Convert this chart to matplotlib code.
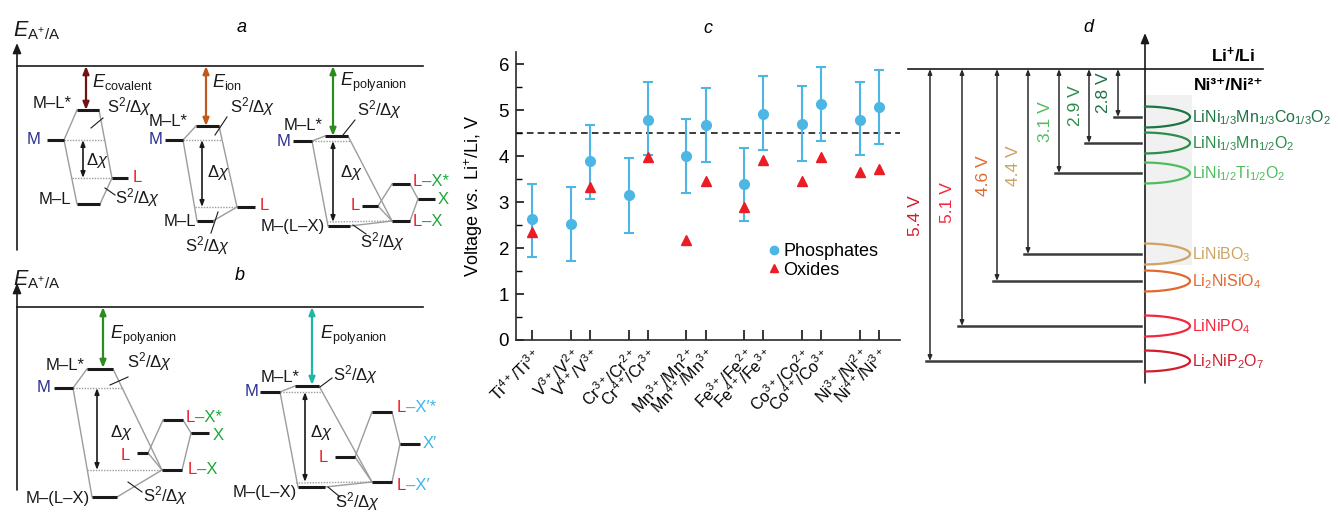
import numpy as np
import matplotlib

matplotlib.use("Agg")
import matplotlib.pyplot as plt  # noqa: E402
from matplotlib.lines import Line2D  # noqa: E402

plt.rcParams["font.family"] = ["Liberation Sans", "DejaVu Sans"]
plt.rcParams["mathtext.fontset"] = "custom"
plt.rcParams["mathtext.rm"] = "Liberation Sans"
plt.rcParams["mathtext.it"] = "Liberation Sans:italic"
plt.rcParams["mathtext.bf"] = "Liberation Sans:bold"
plt.rcParams["mathtext.default"] = "regular"

# ---------------------------------------------------------------------------
# Panel c data: redox couples, phosphates (with spread) and oxides
# ---------------------------------------------------------------------------
couples = [
    "Ti$^{4+}$/Ti$^{3+}$", "V$^{3+}$/V$^{2+}$", "V$^{4+}$/V$^{3+}$",
    "Cr$^{3+}$/Cr$^{2+}$", "Cr$^{4+}$/Cr$^{3+}$", "Mn$^{3+}$/Mn$^{2+}$",
    "Mn$^{4+}$/Mn$^{3+}$", "Fe$^{3+}$/Fe$^{2+}$", "Fe$^{4+}$/Fe$^{3+}$",
    "Co$^{3+}$/Co$^{2+}$", "Co$^{4+}$/Co$^{3+}$", "Ni$^{3+}$/Ni$^{2+}$",
    "Ni$^{4+}$/Ni$^{3+}$",
]
couple_pos = [0, 2, 3, 5, 6, 8, 9, 11, 12, 14, 15, 17, 18]
phosphate_v = [2.63, 2.52, 3.90, 3.15, 4.80, 4.00, 4.68, 3.39, 4.92, 4.71, 5.13, 4.80, 5.08]
phosphate_hi = [3.40, 3.33, 4.68, 3.96, 5.61, 4.81, 5.48, 4.19, 5.74, 5.52, 5.94, 5.62, 5.88]
phosphate_lo = [1.80, 1.72, 3.08, 2.33, 4.02, 3.20, 3.87, 2.60, 4.14, 3.90, 4.34, 4.03, 4.27]
oxide_v = [2.36, np.nan, 3.34, np.nan, 3.99, 2.17, 3.46, 2.89, 3.92, 3.46, 3.98, 3.66, 3.72]
electrolyte_limit = 4.5

# ---------------------------------------------------------------------------
# Panel d data: Ni3+/Ni2+ couple in different frameworks
# ---------------------------------------------------------------------------
ni_compounds = [
    "LiNi$_{1/3}$Mn$_{1/3}$Co$_{1/3}$O$_2$", "LiNi$_{1/3}$Mn$_{1/2}$O$_2$",
    "LiNi$_{1/2}$Ti$_{1/2}$O$_2$", "LiNiBO$_3$", "Li$_2$NiSiO$_4$",
    "LiNiPO$_4$", "Li$_2$NiP$_2$O$_7$",
]
ni_voltage = [2.8, 2.9, 3.1, 4.4, 4.6, 5.1, 5.4]
ni_colors = ["#1d7443", "#2b8e4a", "#4fbd5e", "#cda463", "#e2692e", "#f2283e", "#d01e2c"]
# schematic depth of each level below Li+/Li (pixels of the drawing)
ni_depth = [48, 74, 104, 185, 212, 257, 292]
ni_arrow_x = [1118, 1089, 1059, 1028, 997, 962, 930]
ni_label_y = [93, 106, 122, 166, 176, 203, 216]

W, H = 1338, 513
fig = plt.figure(figsize=(W / 100, H / 100), dpi=100)

# overlay in pixel coordinates for the schematic panels a, b, d
ax = fig.add_axes([0, 0, 1, 1])
ax.set_xlim(0, W)
ax.set_ylim(H, 0)
ax.axis("off")

INK = "#1a1a1a"
GRAY = "#9c9c9c"
BLUE_M = "#2e3192"
RED_L = "#ee1c25"
GREEN_X = "#1fa83c"
CYAN_X = "#3fb6e8"
FS = 12


def level(x0, x1, y, lw=2.2, color=INK):
    ax.plot([x0, x1], [y, y], color=color, lw=lw, solid_capstyle="butt", zorder=3)


def link(p, q, dotted=False):
    ax.plot([p[0], q[0]], [p[1], q[1]], color=GRAY, lw=1.0,
            ls=(0, (1.0, 1.0)) if dotted else "-", zorder=2)


def darrow(x, y0, y1, color=INK, lw=1.2, hl=0.45, hw=0.18):
    ax.annotate("", xy=(x, y0), xytext=(x, y1),
                arrowprops=dict(arrowstyle=f"<|-|>,head_length={hl},head_width={hw}",
                                color=color, lw=lw, shrinkA=0, shrinkB=0))


def txt(x, y, s, color=INK, ha="left", size=FS, **kw):
    return ax.text(x, y, s, color=color, ha=ha, va="center", fontsize=size, **kw)


def two_tone(x, y, parts, size=FS):
    t = ax.text(x, y, parts[0][0], color=parts[0][1], ha="left", va="center", fontsize=size)
    for s, c in parts[1:]:
        t = ax.annotate(s, xy=(1, 0), xycoords=t, ha="left", va="bottom",
                        color=c, fontsize=size)
    return t


S2 = r"S$^{2}$/$\Delta\mathit{\chi}$"
DX = r"$\Delta\mathit{\chi}$"
EAA = r"$\mathit{E}_{\mathrm{A^{+}/A}}$"


def leader(p, q):
    ax.plot([p[0], q[0]], [p[1], q[1]], color=INK, lw=0.8, zorder=4)


# ---------------------------------------------------------------------------
# Panel a
# ---------------------------------------------------------------------------
ax.text(242, 28, "a", fontsize=13, style="italic", ha="center", va="center")
txt(13, 31, EAA, size=15.5)
ax.annotate("", xy=(17, 43), xytext=(17, 250),
            arrowprops=dict(arrowstyle="-|>,head_length=0.6,head_width=0.25",
                            color=INK, lw=1.2, shrinkA=0, shrinkB=0))
ax.plot([17, 423], [66, 66], color=INK, lw=1.2)

# covalent
level(77, 99, 110); level(47, 64, 140); level(112, 128, 178); level(77, 100, 204)
link((77, 110), (64, 140)); link((64, 140), (77, 204))
link((99, 110), (112, 178)); link((112, 178), (100, 204))
link((64, 140), (104, 140), True); link((72, 178), (112, 178), True)
darrow(83, 140, 178, hl=0.35, hw=0.13)
darrow(86, 66, 110, color="#6e1414", lw=1.6)
txt(92, 82, r"$\mathit{E}_{\mathrm{covalent}}$", size=13)
txt(72, 103, "M–L*", ha="right")
txt(41, 140, "M", color=BLUE_M, ha="right")
txt(133, 178, "L", color=RED_L)
txt(71, 200, "M–L", ha="right")
txt(107, 107, S2); leader((103, 118), (91, 128))
txt(86, 160, DX)
txt(115, 198, S2); leader((115, 195), (105, 188))

# ion
level(196, 219, 126); level(165, 183, 140); level(237, 255, 207); level(197, 213, 221)
link((196, 126), (183, 140)); link((183, 140), (197, 221))
link((219, 126), (237, 207)); link((237, 207), (213, 221))
link((183, 140), (222, 140), True); link((195, 207), (237, 207), True)
darrow(202, 140, 207, hl=0.35, hw=0.13)
darrow(206, 66, 126, color="#c2591c", lw=1.6)
txt(212, 82, r"$\mathit{E}_{\mathrm{ion}}$", size=13)
txt(188, 122, "M–L*", ha="right")
txt(162, 140, "M", color=BLUE_M, ha="right")
txt(260, 206, "L", color=RED_L)
txt(196, 222, "M–L", ha="right")
txt(230, 107, S2); leader((227, 117), (215, 135))
txt(207, 173, DX)
txt(185, 246, S2); leader((218, 212), (211, 233))

# polyanion
level(325, 348, 136); level(293, 312, 141); level(392, 410, 184); level(362, 378, 206)
level(418, 435, 199); level(392, 410, 221); level(328, 350, 226)
link((325, 136), (312, 141)); link((312, 141), (328, 226))
link((348, 136), (392, 221)); link((350, 226), (392, 221))
link((378, 206), (392, 184)); link((378, 206), (392, 221))
link((410, 184), (418, 199)); link((418, 199), (410, 221))
link((312, 141), (350, 141), True); link((327, 222), (392, 221), True)
darrow(333, 141, 222, hl=0.35, hw=0.13)
darrow(333, 66, 136, color="#2d8c1e", lw=1.6)
txt(340, 82, r"$\mathit{E}_{\mathrm{polyanion}}$", size=13)
txt(323, 125, "M–L*", ha="right")
txt(290, 141, "M", color=BLUE_M, ha="right")
two_tone(413, 182, [("L", RED_L), ("–X*", GREEN_X)])
txt(438, 199, "X", color=GREEN_X)
txt(360, 206, "L", color=RED_L, ha="right")
two_tone(413, 222, [("L", RED_L), ("–X", GREEN_X)])
txt(325, 226, "M–(L–X)", ha="right")
txt(357, 110, S2); leader((355, 120), (343, 135))
txt(340, 173, DX)
txt(360, 242, S2); leader((353, 225), (366, 234))

# ---------------------------------------------------------------------------
# Panel b
# ---------------------------------------------------------------------------
ax.text(240, 275, "b", fontsize=13, style="italic", ha="center", va="center")
txt(13, 280, EAA, size=15.5)
ax.annotate("", xy=(17, 283), xytext=(17, 490),
            arrowprops=dict(arrowstyle="-|>,head_length=0.6,head_width=0.25",
                            color=INK, lw=1.2, shrinkA=0, shrinkB=0))
ax.plot([17, 423], [307, 307], color=INK, lw=1.2)

# polyanion, X
level(87, 113, 369); level(54, 73, 388); level(163, 183, 420); level(191, 209, 433)
level(137, 148, 453); level(162, 182, 470); level(92, 117, 497)
link((87, 369), (73, 388)); link((73, 388), (92, 497))
link((113, 369), (162, 470)); link((117, 497), (162, 470))
link((148, 453), (163, 420)); link((148, 453), (162, 470))
link((183, 420), (191, 433)); link((191, 433), (182, 470))
link((73, 388), (122, 388), True); link((87, 470), (162, 470), True)
darrow(97, 388, 470, hl=0.35, hw=0.13)
darrow(103, 307, 368, color="#2d8c1e", lw=1.6)
txt(110, 335, r"$\mathit{E}_{\mathrm{polyanion}}$", size=13)
txt(85, 365, "M–L*", ha="right")
txt(50, 388, "M", color=BLUE_M, ha="right")
txt(127, 362, S2); leader((128, 377), (110, 385))
txt(110, 432, DX)
txt(130, 455, "L", color=RED_L, ha="right")
two_tone(186, 418, [("L", RED_L), ("–X*", GREEN_X)])
txt(213, 435, "X", color=GREEN_X)
two_tone(188, 469, [("L", RED_L), ("–X", GREEN_X)])
txt(90, 498, "M–(L–X)", ha="right")
txt(143, 496, S2); leader((142, 492), (128, 482))

# polyanion, X'
level(295, 319, 386); level(260, 280, 392); level(372, 392, 412); level(400, 420, 444)
level(335, 355, 457); level(372, 392, 482); level(298, 325, 487)
link((295, 386), (280, 392)); link((280, 392), (298, 487))
link((319, 386), (372, 482)); link((325, 487), (372, 482))
link((355, 457), (372, 412)); link((355, 457), (372, 482))
link((392, 412), (400, 444)); link((400, 444), (392, 482))
link((280, 392), (322, 392), True); link((296, 483), (372, 482), True)
darrow(305, 392, 482, hl=0.35, hw=0.13)
darrow(312, 307, 385, color="#20b5a6", lw=1.6)
txt(320, 335, r"$\mathit{E}_{\mathrm{polyanion}}$", size=13)
txt(300, 377, "M–L*", ha="right")
txt(258, 392, "M", color=BLUE_M, ha="right")
txt(333, 375, S2); leader((332, 378), (320, 387))
txt(310, 432, DX)
txt(328, 458, "L", color=RED_L, ha="right")
two_tone(397, 407, [("L", RED_L), ("–X′*", CYAN_X)])
txt(423, 444, "X′", color=CYAN_X)
two_tone(397, 485, [("L", RED_L), ("–X′", CYAN_X)])
txt(297, 492, "M–(L–X)", ha="right")
txt(335, 502, S2); leader((328, 487), (340, 497))

# ---------------------------------------------------------------------------
# Panel d
# ---------------------------------------------------------------------------
AXX, LI_Y = 1145, 69
ax.text(1088, 27, "d", fontsize=13, style="italic", ha="center", va="center")
ax.add_patch(plt.Rectangle((AXX, 95), 47, 170, color="#f1f1f1", zorder=0, lw=0))
ax.annotate("", xy=(AXX, 33), xytext=(AXX, 383),
            arrowprops=dict(arrowstyle="-|>,head_length=0.6,head_width=0.25",
                            color=INK, lw=1.2, shrinkA=0, shrinkB=0))
ax.plot([908, 1263], [LI_Y, LI_Y], color=INK, lw=1.2)
ax.text(1255, 55, r"$\mathbf{Li^{+}/Li}$", fontsize=12.5, ha="right", va="center")
ax.text(1263, 86, "Ni³⁺/Ni²⁺", fontsize=12.5, fontweight="bold", ha="right", va="center")

t = np.linspace(-1, 1, 80)
for name, v, col, dep, xa, ly in zip(ni_compounds, ni_voltage, ni_colors,
                                     ni_depth, ni_arrow_x, ni_label_y):
    y = LI_Y + dep
    ax.plot([xa - 4, AXX - 4], [y, y], color="#3a3a3a", lw=1.8, zorder=2)
    darrow(xa, LI_Y, y, color="#2a2a2a", lw=1.1, hl=0.3, hw=0.12)
    ax.text(xa - 14, ly, f"{v:.1f} V", color=col, fontsize=12.5, rotation=90,
            ha="center", va="center")
    ax.plot(AXX + 45 * (1 - t ** 2) ** 0.55, y + 10.5 * t, color=col, lw=1.6, zorder=3)
    ax.text(AXX + 47, y + 1, name, color=col, fontsize=11.5, ha="left", va="center")

# ---------------------------------------------------------------------------
# Panel c
# ---------------------------------------------------------------------------
PHOS = "#4cb6e4"
OXID = "#ea1d27"
ax_c = fig.add_axes([516 / W, (H - 340) / H, 384 / W, 288 / H])
ax_c.patch.set_alpha(0)
yerr = [np.subtract(phosphate_v, phosphate_lo), np.subtract(phosphate_hi, phosphate_v)]
ax_c.errorbar(couple_pos, phosphate_v, yerr=yerr, fmt="o", color=PHOS, ms=7,
              elinewidth=1.5, capsize=3.5, capthick=1.5, zorder=3)
ax_c.plot(couple_pos, oxide_v, "^", color=OXID, ms=6.5, ls="none", zorder=4)
ax_c.axhline(electrolyte_limit, color=INK, ls=(0, (4, 2.5)), lw=1.2, zorder=1)
ax_c.set_xlim(-0.85, 19.1)
ax_c.set_ylim(0, 6.27)
ax_c.set_yticks(range(7))
ax_c.set_yticks(np.arange(0.5, 6.5, 1.0), minor=True)
ax_c.set_xticks(couple_pos)
ax_c.set_xticklabels(couples, rotation=45, ha="right", va="top",
                     rotation_mode="anchor", fontsize=11.5)
for s in ("top", "right"):
    ax_c.spines[s].set_visible(False)
for s in ("left", "bottom"):
    ax_c.spines[s].set_linewidth(1.2)
    ax_c.spines[s].set_color("#2a2a2a")
ax_c.tick_params(axis="y", which="major", direction="in", length=6, width=1.1,
                 labelsize=13.5, pad=5)
ax_c.tick_params(axis="y", which="minor", direction="in", length=4, width=1.0)
ax_c.tick_params(axis="x", direction="in", length=7, width=1.1, pad=4)
ax_c.set_ylabel(r"Voltage $\mathit{vs.}$ Li$^{+}$/Li, V", fontsize=13, labelpad=10)
ax_c.set_title("c", fontsize=13, style="italic", pad=14)
handles = [
    Line2D([], [], marker="o", ls="none", color=PHOS, ms=6),
    Line2D([], [], marker="^", ls="none", color=OXID, ms=6),
]
ax_c.legend(handles, ["Phosphates", "Oxides"], loc="center left",
            bbox_to_anchor=(0.64, 0.275), frameon=False, fontsize=13,
            handlelength=0.6, handletextpad=0.2, labelspacing=0.1, borderaxespad=0)

fig.savefig("out.png", dpi=100)
